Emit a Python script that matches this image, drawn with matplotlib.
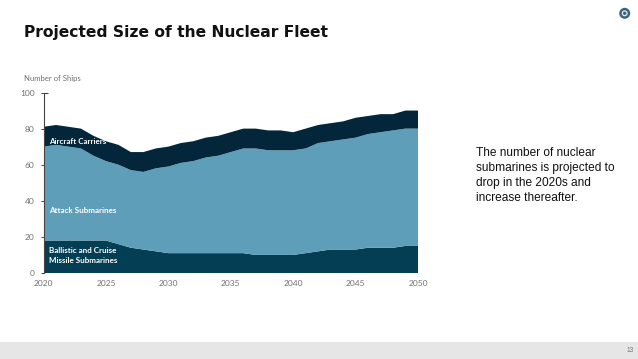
import matplotlib
matplotlib.use("Agg")
import matplotlib.pyplot as plt
from matplotlib.patches import Rectangle, Ellipse

years = list(range(2020, 2051))
ballistic = [18,18,18,18,18,18,16,14,13,12,11,11,11,11,11,11,11,10,10,10,10,11,12,13,13,13,14,14,14,15,15]
attack = [52,53,52,51,47,44,44,43,43,46,48,50,51,53,54,56,58,59,58,58,58,58,60,60,61,62,63,64,65,65,65]
carriers = [11,11,11,11,11,11,11,10,11,11,11,11,11,11,11,11,11,11,11,11,10,11,10,10,10,11,10,10,9,10,10]
x_ticks = [2020,2025,2030,2035,2040,2045,2050]
y_ticks = [0,20,40,60,80,100]

W, H = 638, 359
fig = plt.figure(figsize=(W/100, H/100), dpi=100, facecolor="white")

def px(x, y):
    return x / W, 1 - y / H

left, bottom = px(43.5, 273)
right, top = px(418, 92.5)
ax = fig.add_axes([left, bottom, right-left, top-bottom])
ax.stackplot(years, ballistic, attack, carriers,
             colors=["#033e55", "#5f9eb8", "#03263b"], linewidth=0)
ax.set_xlim(2020, 2050)
ax.set_ylim(0, 100)
ax.set_xticks(x_ticks)
ax.set_yticks(y_ticks)
for s in ["top", "right", "bottom"]:
    ax.spines[s].set_visible(False)
ax.spines["left"].set_color("#444444")
ax.spines["left"].set_linewidth(0.8)
ax.tick_params(axis="y", direction="out", length=2, width=0.7, color="#444444", pad=4.5, labelsize=6.0, labelcolor="#707070")
ax.tick_params(axis="x", length=0, pad=5, labelsize=6.0, labelcolor="#707070")
ax.plot([2020, 2020.35], [100, 100], color="#444444", lw=0.8, clip_on=False, zorder=5, solid_capstyle="butt")
for t in ax.get_xticklabels() + ax.get_yticklabels():
    t.set_fontfamily("Lato")

lab = dict(color="white", fontsize=5.75, family="Lato", fontweight="bold", va="center", ha="left")
ax.text(2020.45, 73.0, "Aircraft Carriers", **lab)
ax.text(2020.45, 34.8, "Attack Submarines", **lab)
ax.text(2020.45, 12.3, "Ballistic and Cruise", **lab)
ax.text(2020.45, 7.0, "Missile Submarines", **lab)

fig.text(*px(24.5, 78), "Number of Ships", fontsize=5.6, family="Lato", color="#707070", va="center", ha="left")
fig.text(*px(24, 32), "Projected Size of the Nuclear Fleet", fontsize=11.15, family="DejaVu Sans",
         fontweight="bold", color="#111111", va="center", ha="left")

body = ["The number of nuclear", "submarines is projected to", "drop in the 2020s and", "increase thereafter."]
for i, line in enumerate(body):
    fig.text(*px(476, 153 + i*15), line, fontsize=8.6, family="Liberation Sans", color="#111111", va="center", ha="left")

fig.add_artist(Rectangle(px(0, 359), 1, 17/H, transform=fig.transFigure, facecolor="#e6e6e6", edgecolor="none"))
fig.text(*px(630, 350.5), "13", fontsize=4.8, family="Liberation Sans", color="#777777", va="center", ha="center")

cx, cy = px(624.7, 13.3)
for r, c in [(5.5, "#3a6580"), (3, "#dfe8ee"), (1.7, "#3a6580")]:
    fig.add_artist(Ellipse((cx, cy), 2*r/W, 2*r/H, transform=fig.transFigure, facecolor=c, edgecolor="none"))

fig.savefig("out.png", dpi=100, facecolor="white")
